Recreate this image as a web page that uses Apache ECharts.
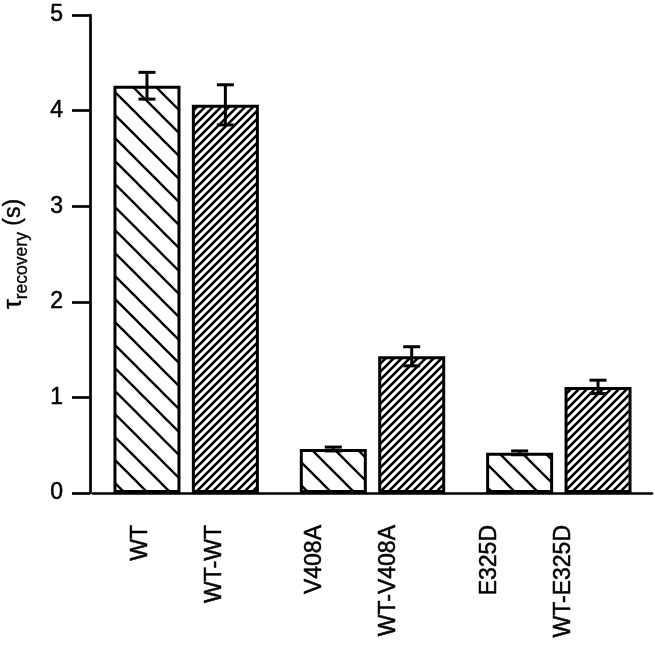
<!DOCTYPE html>
<html>
<head>
<meta charset="utf-8">
<script src="https://cdn.jsdelivr.net/npm/echarts@6/dist/echarts.min.js"></script>
<style>
  html, body { margin: 0; padding: 0; background: #fff; }
  #chart { width: 655px; height: 645px; }
</style>
</head>
<body>
<div id="chart"></div>
<script>
// ---- data ----
var categories = ['WT', 'WT-WT', 'V408A', 'WT-V408A', 'E325D', 'WT-E325D'];
var groups = ['WT', 'V408A', 'E325D'];
var values = [4.26, 4.06, 0.46, 1.43, 0.42, 1.11];
var errors = [0.14, 0.21, 0.02, 0.10, 0.02, 0.07];
var yTicks = [0, 1, 2, 3, 4, 5];

// split into single (mutant) bars and WT-dimer bars
var singleNames = [], doubleNames = [];
var singleVals = [], singleErrs = [], doubleVals = [], doubleErrs = [];
for (var i = 0; i < values.length; i++) {
  if (i % 2 === 0) { singleNames.push(categories[i]); singleVals.push(values[i]); singleErrs.push(errors[i]); }
  else { doubleNames.push(categories[i]); doubleVals.push(values[i]); doubleErrs.push(errors[i]); }
}

// ---- hatch patterns ----
function hatch(size, lw, forward) {
  var c = document.createElement('canvas');
  c.width = size; c.height = size;
  var g = c.getContext('2d');
  g.fillStyle = '#fff'; g.fillRect(0, 0, size, size);
  g.strokeStyle = '#000'; g.lineWidth = lw; g.lineCap = 'square';
  for (var k = -1; k <= 1; k++) {
    g.beginPath();
    if (forward) { g.moveTo(0, size + k * size); g.lineTo(size, k * size); }
    else { g.moveTo(0, k * size); g.lineTo(size, size + k * size); }
    g.stroke();
  }
  return c;
}
var sparse = hatch(23, 2.3, false);
var dense = hatch(8, 2.6, true);

var BAR_W = 67, GAP = 0.17;
var HALF_SHIFT = (BAR_W * (1 + GAP)) / 2;

function errRender(shift) {
  return function (params, api) {
    var x = api.value(0), v = api.value(1), e = api.value(2);
    var top = api.coord([x, v + e]);
    var bot = api.coord([x, v - e]);
    var cx = top[0] + shift;
    var cap = 8.5;
    var st = { stroke: '#000', lineWidth: 3 };
    return {
      type: 'group',
      children: [
        { type: 'line', shape: { x1: cx, y1: top[1], x2: cx, y2: bot[1] }, style: st },
        { type: 'line', shape: { x1: cx - cap, y1: top[1], x2: cx + cap, y2: top[1] }, style: st },
        { type: 'line', shape: { x1: cx - cap, y1: bot[1], x2: cx + cap, y2: bot[1] }, style: st }
      ]
    };
  };
}

var font = "'Liberation Sans', Arial, Helvetica, sans-serif";
var ink = { textBorderColor: '#000', textBorderWidth: 0.5 };
var labelAxis = function (gi, names) {
  return {
    type: 'category', gridIndex: gi, data: names,
    axisLine: { show: false }, axisTick: { show: false },
    axisLabel: Object.assign({ rotate: 90, margin: 32, fontSize: 23, color: '#000', fontFamily: font }, ink)
  };
};
var chart = echarts.init(document.getElementById('chart'), null, { renderer: 'canvas' });
chart.setOption({
  animation: false,
  backgroundColor: '#fff',
  grid: [
    { left: 93, right: 3, top: 15, bottom: 152, containLabel: false, outerBoundsMode: 'none' },
    { left: 53, width: 524, top: 15, bottom: 152, containLabel: false, outerBoundsMode: 'none' },
    { left: 127, width: 524, top: 15, bottom: 152, containLabel: false, outerBoundsMode: 'none' }
  ],
  xAxis: [
    {
      type: 'category', gridIndex: 0, data: groups,
      axisLine: { lineStyle: { color: '#000', width: 2.7 } },
      axisTick: { show: false }, axisLabel: { show: false }
    },
    labelAxis(1, singleNames),
    labelAxis(2, doubleNames)
  ],
  yAxis: [
    {
      type: 'value', gridIndex: 0, min: yTicks[0], max: yTicks[yTicks.length - 1], interval: 1,
      offset: 3,
      splitLine: { show: false },
      axisLine: { show: true, lineStyle: { color: '#000', width: 2.7 } },
      axisTick: { show: true, length: 18, lineStyle: { color: '#000', width: 2.7 } },
      axisLabel: Object.assign({ margin: 27, fontSize: 23, color: '#000', fontFamily: font }, ink),
      name: '{t|τ}{s|recovery}{u| (s)}',
      nameLocation: 'middle',
      nameGap: 59,
      nameTextStyle: {
        color: '#000', fontFamily: font,
        rich: {
          t: { fontSize: 25, fontFamily: font, color: '#000', lineHeight: 34, verticalAlign: 'middle', textBorderColor: '#000', textBorderWidth: 0.4 },
          s: { fontSize: 17.5, fontFamily: font, color: '#000', lineHeight: 34, verticalAlign: 'bottom', padding: [14, 0, 0, 0], textBorderColor: '#000', textBorderWidth: 0.3 },
          u: { fontSize: 23, fontFamily: font, color: '#000', lineHeight: 34, verticalAlign: 'middle', textBorderColor: '#000', textBorderWidth: 0.4 }
        }
      }
    },
    { type: 'value', gridIndex: 1, show: false, min: 0, max: 5 },
    { type: 'value', gridIndex: 2, show: false, min: 0, max: 5 }
  ],
  series: [
    {
      type: 'bar', xAxisIndex: 0, yAxisIndex: 0, data: singleVals,
      barWidth: BAR_W, barGap: (GAP * 100) + '%',
      itemStyle: { color: { image: sparse, repeat: 'repeat' }, borderColor: '#000', borderWidth: 3 }
    },
    {
      type: 'bar', xAxisIndex: 0, yAxisIndex: 0, data: doubleVals,
      barWidth: BAR_W, barGap: (GAP * 100) + '%',
      itemStyle: { color: { image: dense, repeat: 'repeat' }, borderColor: '#000', borderWidth: 3 }
    },
    {
      type: 'custom', xAxisIndex: 0, yAxisIndex: 0, z: 5,
      renderItem: errRender(-HALF_SHIFT),
      data: singleVals.map(function (v, i) { return [i, v, singleErrs[i]]; })
    },
    {
      type: 'custom', xAxisIndex: 0, yAxisIndex: 0, z: 5,
      renderItem: errRender(HALF_SHIFT),
      data: doubleVals.map(function (v, i) { return [i, v, doubleErrs[i]]; })
    }
  ]
});
</script>
</body>
</html>
